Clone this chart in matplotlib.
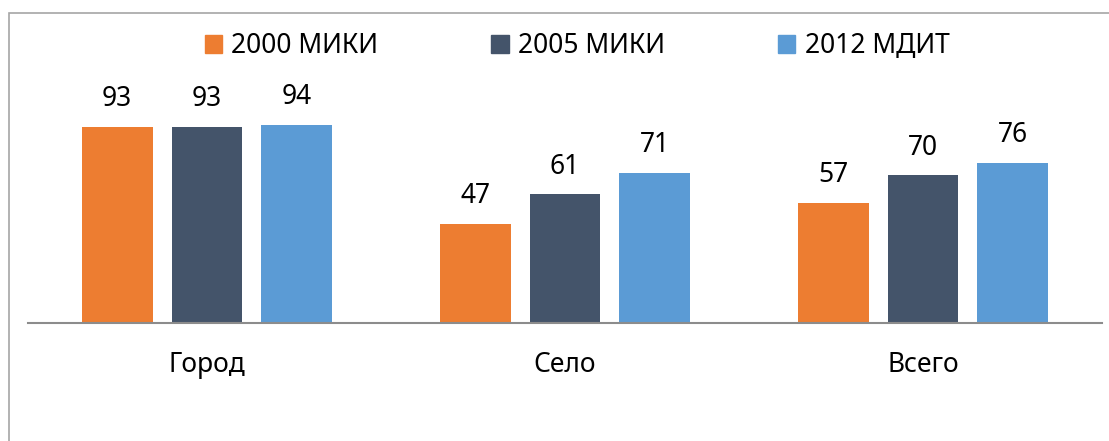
import numpy as np
import matplotlib.pyplot as plt
from matplotlib.patches import Patch, Rectangle

plt.rcParams['font.family'] = ['Noto Sans', 'DejaVu Sans']

categories = ['Город', 'Село', 'Всего']
series_names = ['2000 МИКИ', '2005 МИКИ', '2012 МДИТ']
values_2000 = [93, 47, 57]
values_2005 = [93, 61, 70]
values_2012 = [94, 71, 76]
colors = ['#ED7D31', '#44546A', '#5B9BD5']

W, H = 1109, 441
fig = plt.figure(figsize=(W / 100, H / 100), dpi=100)

# outer chart border (right/bottom cut off like the source)
fig.patches.append(Rectangle((9 / W, -0.1), 1.2, (H - 13) / H + 0.1,
                             transform=fig.transFigure, fill=False,
                             edgecolor='#A6A6A6', linewidth=1.2))

ax = fig.add_axes([28 / W, 118 / H, 1074 / W, 210.8 / H])
x = np.arange(len(categories))
width = 0.198
offset = 0.251

for i, (vals, name) in enumerate(zip([values_2000, values_2005, values_2012],
                                     series_names)):
    bars = ax.bar(x + (i - 1) * offset, vals, width, color=colors[i], label=name)
    for b, v in zip(bars, vals):
        ax.annotate(str(v), (b.get_x() + b.get_width() / 2, v),
                    xytext=(0, 10), textcoords='offset points',
                    ha='center', va='bottom', fontsize=19)

ax.set_xlim(-0.5, len(categories) - 0.5)
ax.set_ylim(0, 100)
ax.set_yticks([])
ax.set_xticks(x)
ax.set_xticklabels(categories, fontsize=19)
ax.tick_params(axis='x', length=0, pad=20)
for s in ['top', 'right', 'left']:
    ax.spines[s].set_visible(False)
ax.spines['bottom'].set_color('#8C8C8C')
ax.spines['bottom'].set_linewidth(1.5)

handles = [Patch(color=c) for c in colors]
fig.legend(handles, series_names, loc='center', bbox_to_anchor=(577 / W, 395 / H),
           ncol=3, frameon=False, fontsize=19, handlelength=0.65, handleheight=0.65,
           handletextpad=0.35, columnspacing=4.3)

fig.savefig('out.png', dpi=100)
